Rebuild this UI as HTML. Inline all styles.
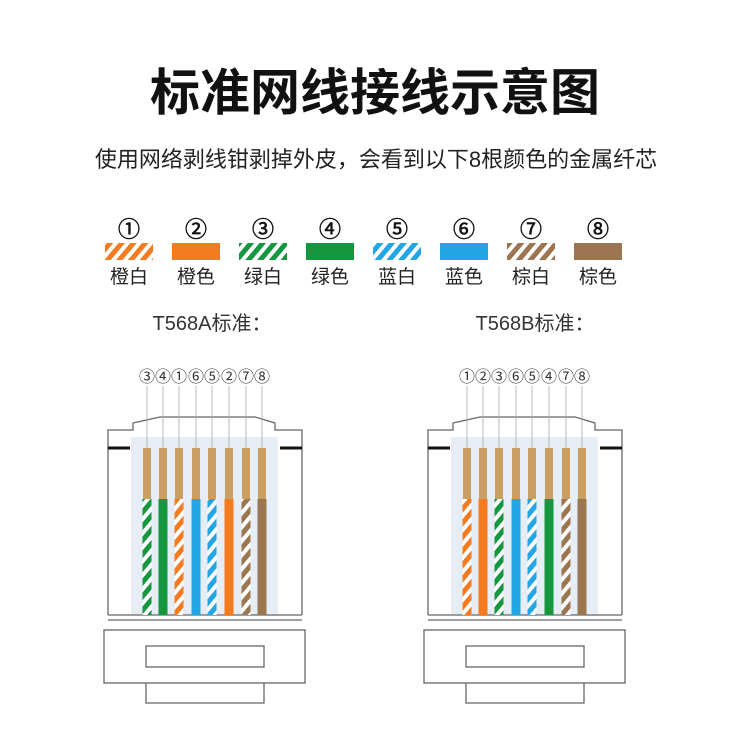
<!DOCTYPE html><html><head><meta charset="utf-8"><style>body{margin:0;background:#fff}svg{display:block}text{font-family:"Liberation Sans","Noto Sans CJK SC",sans-serif}</style></head><body>
<svg width="750" height="750" viewBox="0 0 750 750" xmlns="http://www.w3.org/2000/svg">
<defs>
<pattern id="so" width="9" height="9" patternUnits="userSpaceOnUse" patternTransform="rotate(40)"><rect width="9" height="9" fill="#f47b20"/><rect width="4" height="9" fill="#fff"/></pattern>
<pattern id="sg" width="9" height="9" patternUnits="userSpaceOnUse" patternTransform="rotate(40)"><rect width="9" height="9" fill="#15973f"/><rect width="4" height="9" fill="#fff"/></pattern>
<pattern id="sb" width="9" height="9" patternUnits="userSpaceOnUse" patternTransform="rotate(40)"><rect width="9" height="9" fill="#22a6e6"/><rect width="4" height="9" fill="#fff"/></pattern>
<pattern id="sn" width="9" height="9" patternUnits="userSpaceOnUse" patternTransform="rotate(40)"><rect width="9" height="9" fill="#9c7650"/><rect width="4" height="9" fill="#fff"/></pattern>
<g id="conn" fill="none" stroke="#666" stroke-width="1.3">
<path d="M108,615 V430 H133 V423 L160,417 H255 L275,423 V430 H302 V615" fill="#fff"/>
<rect x="131" y="437" width="147" height="178" fill="#e6edf5" stroke="none"/>
<line x1="108" y1="448" x2="130" y2="448" stroke="#111" stroke-width="3"/>
<line x1="280" y1="448" x2="302" y2="448" stroke="#111" stroke-width="3"/>
<line x1="108" y1="615" x2="302" y2="615"/>
<line x1="108" y1="620" x2="302" y2="620"/>
<rect x="104" y="630" width="201" height="53" fill="#fff"/>
<rect x="146" y="646" width="118" height="21"/>
<path d="M146,683 V703 H264 V683"/>
</g>
</defs>
<text x="375" y="110" font-size="50" font-weight="bold" text-anchor="middle" fill="#111">标准网线接线示意图</text>
<text x="376" y="167" font-size="22" text-anchor="middle" fill="#222">使用网络剥线钳剥掉外皮，会看到以下8根颜色的金属纤芯</text>
<g font-size="22" text-anchor="middle" fill="#111" stroke="#111" stroke-width="0.6">
<text x="129" y="237">①</text><text x="196" y="237">②</text><text x="263" y="237">③</text><text x="330" y="237">④</text><text x="397" y="237">⑤</text><text x="464" y="237">⑥</text><text x="531" y="237">⑦</text><text x="598" y="237">⑧</text>
</g>
<rect x="105" y="243" width="48" height="17" fill="url(#so)"/>
<rect x="172" y="243" width="48" height="17" fill="#f47b20"/>
<rect x="239" y="243" width="48" height="17" fill="url(#sg)"/>
<rect x="306" y="243" width="48" height="17" fill="#15973f"/>
<rect x="373" y="243" width="48" height="17" fill="url(#sb)"/>
<rect x="440" y="243" width="48" height="17" fill="#22a6e6"/>
<rect x="507" y="243" width="48" height="17" fill="url(#sn)"/>
<rect x="574" y="243" width="48" height="17" fill="#9c7650"/>
<g font-size="19" text-anchor="middle" fill="#222">
<text x="129" y="283">橙白</text><text x="196" y="283">橙色</text><text x="263" y="283">绿白</text><text x="330" y="283">绿色</text><text x="397" y="283">蓝白</text><text x="464" y="283">蓝色</text><text x="531" y="283">棕白</text><text x="598" y="283">棕色</text>
</g>
<text x="212" y="330" font-size="20" text-anchor="middle" fill="#333">T568A标准：</text>
<text x="535" y="330" font-size="20" text-anchor="middle" fill="#333">T568B标准：</text>

<use href="#conn"/>
<use href="#conn" x="320"/>

<g font-size="16" text-anchor="middle" fill="#333">
<text x="147" y="382">③</text><text x="163" y="382">④</text><text x="179" y="382">①</text><text x="196" y="382">⑥</text><text x="212" y="382">⑤</text><text x="229" y="382">②</text><text x="246" y="382">⑦</text><text x="262" y="382">⑧</text>
<text x="467" y="382">①</text><text x="483" y="382">②</text><text x="499" y="382">③</text><text x="516" y="382">⑥</text><text x="532" y="382">⑤</text><text x="549" y="382">④</text><text x="566" y="382">⑦</text><text x="582" y="382">⑧</text>
</g>
<g stroke="#aaa" stroke-width="0.8">
<path d="M147,386V448M163,386V448M179,386V448M196,386V448M212,386V448M229,386V448M246,386V448M262,386V448"/>
<path d="M467,386V448M483,386V448M499,386V448M516,386V448M532,386V448M549,386V448M566,386V448M582,386V448"/>
</g>
<g fill="#c9a062">
<rect x="143" y="448" width="8" height="51"/><rect x="159" y="448" width="8" height="51"/><rect x="175" y="448" width="8" height="51"/><rect x="192" y="448" width="8" height="51"/><rect x="208" y="448" width="8" height="51"/><rect x="225" y="448" width="8" height="51"/><rect x="242" y="448" width="8" height="51"/><rect x="258" y="448" width="8" height="51"/>
<rect x="463" y="448" width="8" height="51"/><rect x="479" y="448" width="8" height="51"/><rect x="495" y="448" width="8" height="51"/><rect x="512" y="448" width="8" height="51"/><rect x="528" y="448" width="8" height="51"/><rect x="545" y="448" width="8" height="51"/><rect x="562" y="448" width="8" height="51"/><rect x="578" y="448" width="8" height="51"/>
</g>
<g>
<rect x="142.5" y="499" width="9" height="116" fill="url(#sg)"/>
<rect x="158.5" y="499" width="9" height="116" fill="#15973f"/>
<rect x="174.5" y="499" width="9" height="116" fill="url(#so)"/>
<rect x="191.5" y="499" width="9" height="116" fill="#22a6e6"/>
<rect x="207.5" y="499" width="9" height="116" fill="url(#sb)"/>
<rect x="224.5" y="499" width="9" height="116" fill="#f47b20"/>
<rect x="241.5" y="499" width="9" height="116" fill="url(#sn)"/>
<rect x="257.5" y="499" width="9" height="116" fill="#9c7650"/>
<rect x="462.5" y="499" width="9" height="116" fill="url(#so)"/>
<rect x="478.5" y="499" width="9" height="116" fill="#f47b20"/>
<rect x="494.5" y="499" width="9" height="116" fill="url(#sg)"/>
<rect x="511.5" y="499" width="9" height="116" fill="#22a6e6"/>
<rect x="527.5" y="499" width="9" height="116" fill="url(#sb)"/>
<rect x="544.5" y="499" width="9" height="116" fill="#15973f"/>
<rect x="561.5" y="499" width="9" height="116" fill="url(#sn)"/>
<rect x="577.5" y="499" width="9" height="116" fill="#9c7650"/>
</g>
</svg>
</body></html>
